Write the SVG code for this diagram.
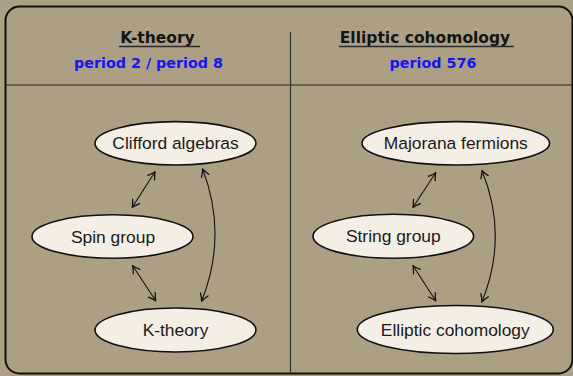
<svg xmlns="http://www.w3.org/2000/svg" width="573" height="376" viewBox="0 0 573 376">
<style>
.node ellipse{fill:#f4eee5;stroke:#111;stroke-width:1.6}
.node text{font-family:"Liberation Sans",Arial,sans-serif;font-size:17.4px;fill:#1a1a1a;text-anchor:middle}
.hdr{font-family:"DejaVu Sans",sans-serif;font-weight:bold;font-size:15.5px;fill:#151515;text-anchor:middle}
.per{font-family:"DejaVu Sans",sans-serif;font-weight:bold;font-size:14.3px;fill:#1414f5;text-anchor:middle}
.ul{stroke:#2a2a2a;stroke-width:1.3}
.conn path{fill:none;stroke:#111;stroke-width:1.1;marker-start:url(#ah);marker-end:url(#ah)}
</style>
<defs>
<marker id="ah" viewBox="-8 -5 9 10" markerWidth="9" markerHeight="10" refX="0" refY="0" orient="auto-start-reverse" markerUnits="userSpaceOnUse">
<path d="M-7,-4 Q-2.5,-1 0,0 Q-2.5,1 -7,4" fill="none" stroke="#111" stroke-width="1.3" stroke-linecap="round"/>
</marker>
</defs>
<rect x="0" y="0" width="573" height="376" fill="#ad9f83"/>
<g id="frame" fill="none">
<rect x="5.5" y="6.5" width="567" height="367" rx="14" ry="14" stroke="#111" stroke-width="2"/>
<line x1="5.5" y1="85" x2="572" y2="85" stroke="#222" stroke-width="1.1"/>
<line x1="290.5" y1="32" x2="290.5" y2="373.5" stroke="#333" stroke-width="1.2"/>
</g>
<g id="header-left">
<text class="hdr" x="157.5" y="43">K-theory</text>
<line class="ul" x1="119" y1="46.5" x2="200" y2="46.5"/>
<text class="per" x="148.5" y="68">period 2 / period 8</text>
</g>
<g id="header-right">
<text class="hdr" x="425" y="43">Elliptic cohomology</text>
<line class="ul" x1="339" y1="46.5" x2="514" y2="46.5"/>
<text class="per" x="433" y="68">period 576</text>
</g>
<g id="clifford" class="node"><ellipse cx="175.5" cy="143.3" rx="80.5" ry="21.7"/><text x="175.5" y="149">Clifford algebras</text></g>
<g id="spin" class="node"><ellipse cx="112.5" cy="236.5" rx="80.5" ry="21.7"/><text x="113" y="242.5">Spin group</text></g>
<g id="ktheory" class="node"><ellipse cx="175.5" cy="330" rx="80.5" ry="22"/><text x="175.5" y="336">K-theory</text></g>
<g id="majorana" class="node"><ellipse cx="455.8" cy="143.3" rx="93.8" ry="21.7"/><text x="455.8" y="149">Majorana fermions</text></g>
<g id="string" class="node"><ellipse cx="393.3" cy="236.3" rx="80.3" ry="22"/><text x="393.3" y="242.3">String group</text></g>
<g id="elliptic" class="node"><ellipse cx="455.3" cy="329.5" rx="98" ry="24"/><text x="455.3" y="335.5">Elliptic cohomology</text></g>
<g id="connectors" class="conn">
<path d="M155,171.7 L132.3,207.3"/>
<path d="M132.7,265.7 L155.7,300.7"/>
<path d="M202.7,169.3 Q227.8,235 201.7,301"/>
<path d="M435.7,172.7 L413,207.3"/>
<path d="M413,265.7 L435.7,300.7"/>
<path d="M482,170.7 Q508.6,236 482,301.7"/>
</g>
</svg>
